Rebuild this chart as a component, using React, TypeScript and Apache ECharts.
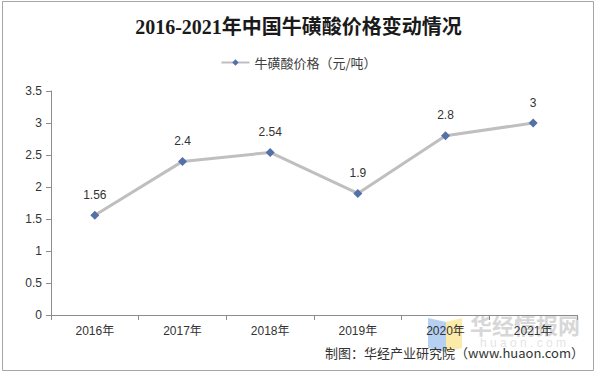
import React, { useEffect, useRef } from "react";
import * as echarts from "echarts";

const categories = ["2016年", "2017年", "2018年", "2019年", "2020年", "2021年"];
const prices = [1.56, 2.4, 2.54, 1.9, 2.8, 3];
const seriesName = "牛磺酸价格（元/吨）";
const titleText = "2016-2021年中国牛磺酸价格变动情况";
const sourceText = "制图：华经产业研究院（www.huaon.com）";

export default function App() {
  const ref = useRef<HTMLDivElement>(null);
  useEffect(() => {
    if (!ref.current) return;
    const chart = echarts.init(ref.current, undefined, { renderer: "svg" });
    chart.setOption({
      animation: false,
      backgroundColor: "#ffffff",
      title: {
        text: titleText,
        left: "center",
        top: 12,
        textStyle: {
          fontFamily: "Liberation Serif, Noto Sans CJK SC",
          fontWeight: "bold",
          fontSize: 20,
          color: "#1a1a1a",
        },
      },
      legend: {
        top: 51,
        left: "center",
        itemWidth: 28,
        itemHeight: 8,
        itemGap: 4,
        textStyle: { fontSize: 13, color: "#404040", fontFamily: "Noto Sans CJK SC" },
        data: [seriesName],
      },
      grid: { left: 51, right: 20, top: 91, bottom: 59 },
      xAxis: {
        type: "category",
        data: categories,
        boundaryGap: true,
        axisLine: { lineStyle: { color: "#8c8c8c", width: 1 } },
        axisTick: { show: true, length: 5, lineStyle: { color: "#8c8c8c" } },
        axisLabel: { fontSize: 12, color: "#333333", margin: 10, fontFamily: "Liberation Sans, Noto Sans CJK SC" },
      },
      yAxis: {
        type: "value",
        min: 0,
        max: 3.5,
        interval: 0.5,
        axisLine: { show: true, lineStyle: { color: "#8c8c8c", width: 1 } },
        axisTick: { show: true, length: 5, lineStyle: { color: "#8c8c8c" } },
        splitLine: { show: false },
        axisLabel: { fontSize: 12, color: "#333333", margin: 9, fontFamily: "Liberation Sans" },
      },
      series: [
        {
          name: seriesName,
          type: "line",
          data: prices,
          symbol: "diamond",
          symbolSize: 9,
          lineStyle: { color: "#bfbfbf", width: 3 },
          itemStyle: { color: "#5470a8" },
          label: {
            show: true,
            position: "top",
            distance: 10,
            fontSize: 12,
            color: "#333333",
            fontFamily: "Liberation Sans",
          },
        },
      ],
      graphic: [
        {
          type: "rect",
          shape: { x: 2.5, y: 1.5, width: 591, height: 369 },
          style: { fill: "none", stroke: "#a6a6a6", lineWidth: 1 },
          z: 100,
        },
        {
          type: "polygon",
          shape: { points: [[428, 318], [446, 322], [446, 352], [428, 348]] },
          style: { fill: "rgba(120,170,230,0.55)" },
          z: 0,
        },
        {
          type: "polygon",
          shape: { points: [[446, 322], [462, 318], [462, 348], [446, 352]] },
          style: { fill: "rgba(250,220,110,0.6)" },
          z: 0,
        },
        {
          type: "text",
          x: 470,
          y: 313,
          style: {
            text: "华经情报网",
            fontSize: 22,
            fontWeight: "bold",
            fill: "rgba(180,180,180,0.55)",
            fontFamily: "Noto Sans CJK SC",
          },
          z: 0,
        },
        {
          type: "text",
          x: 480,
          y: 337,
          style: {
            text: "h u a o n . c o m",
            fontSize: 12,
            fill: "rgba(200,200,200,0.5)",
            fontFamily: "Liberation Sans",
          },
          z: 0,
        },
        {
          type: "text",
          right: 13,
          top: 346,
          style: {
            text: sourceText,
            fontSize: 13,
            fill: "#333333",
            fontFamily: "Noto Sans CJK SC",
          },
          z: 10,
        },
      ],
    });
    return () => chart.dispose();
  }, []);
  return (
    <div
      ref={ref}
      style={{ position: "fixed", left: 0, top: 0, width: 597, height: 374 }}
    />
  );
}
